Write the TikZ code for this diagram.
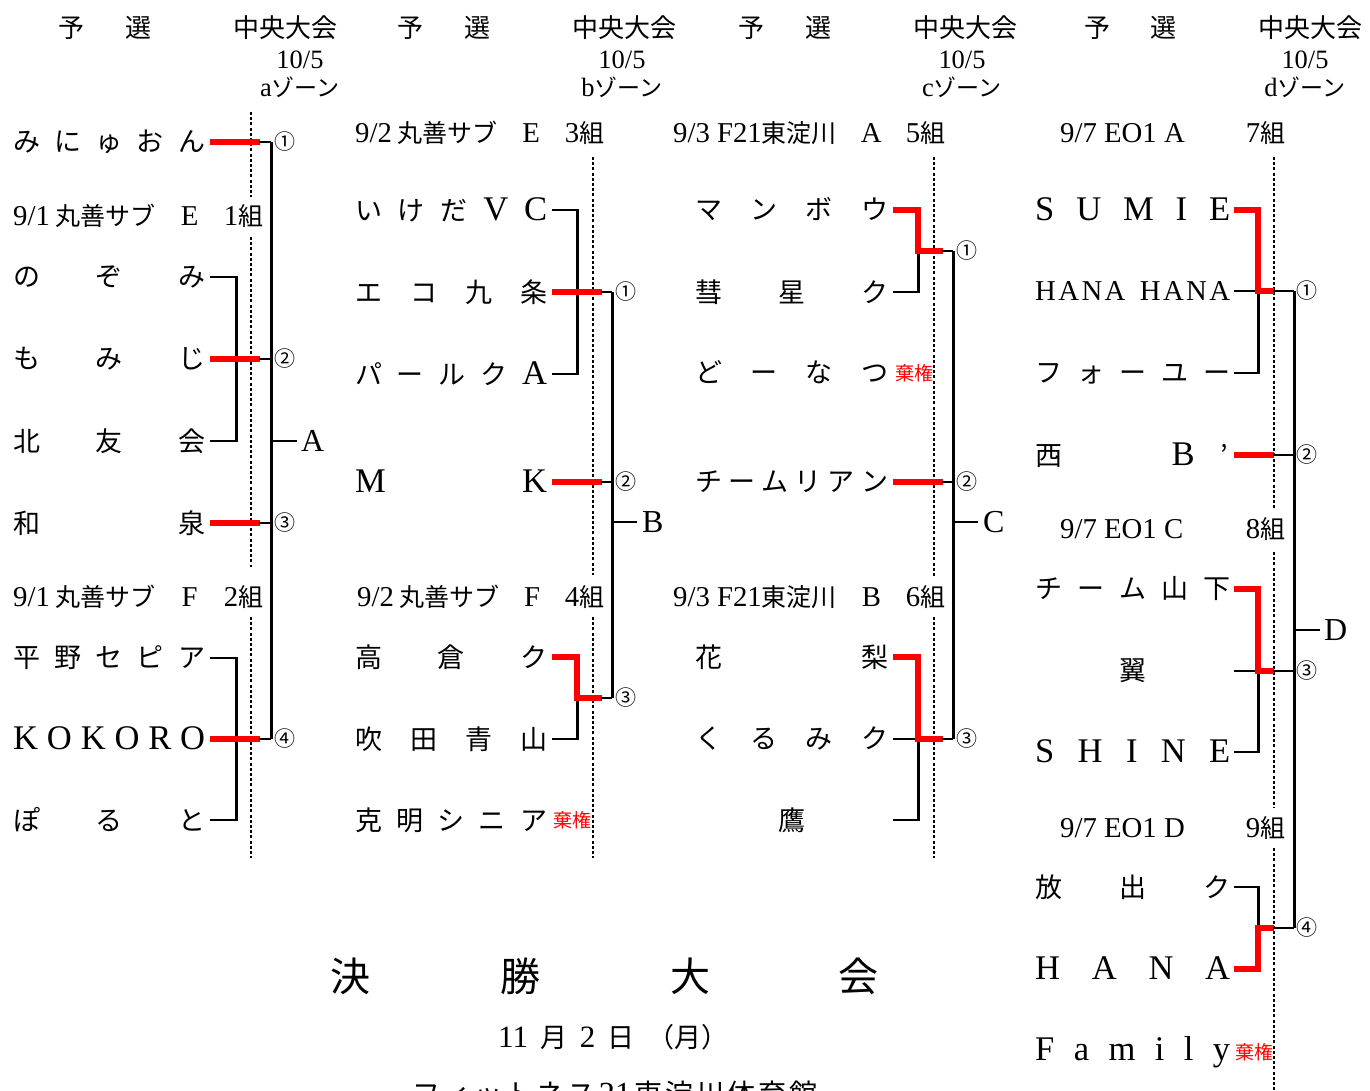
\documentclass[tikz,border=0pt]{standalone}
\usepackage{fontspec}
\setmainfont{Noto Sans CJK JP}
\newfontfamily\lt{Liberation Serif}[Scale=1.15]
\newfontfamily\ltn{Liberation Serif}[Scale=1.28]
\usetikzlibrary{calc}
\newcommand\gp{\hfil}
\newcommand\nbox[2]{\hbox to #1pt{\vphantom{国}#2}}
\tikzset{
 blk/.style={line width=2.6pt, draw=black, line cap=butt, line join=miter},
 redl/.style={line width=6pt, draw=red, line join=miter, line cap=butt},
 dotl/.style={line width=2.4pt, draw=black, dash pattern=on 3pt off 2.2pt},
 nm/.style={anchor=west, inner sep=0pt, font=\fontsize{27}{30}\selectfont},
 grp/.style={anchor=west, inner sep=0pt, font=\fontsize{25}{28}\selectfont},
 hdr/.style={inner sep=0pt, font=\fontsize{26}{28}\selectfont},
 subh/.style={inner sep=0pt, font=\fontsize{23}{25}\selectfont},
 seed/.style={inner sep=0pt, font=\fontsize{21}{23}\selectfont},
 lbl/.style={anchor=west, inner sep=0pt, font=\ltn\fontsize{25}{28}\selectfont},
 kiken/.style={anchor=west, inner sep=0pt, text=red, font=\fontsize{19}{21}\selectfont},
 big/.style={inner sep=0pt, font=\fontsize{40}{44}\selectfont},
}
\begin{document}
\begin{tikzpicture}[x=1pt,y=-1pt]
\fill[white] (0,0) rectangle (1370,1091);
\useasboundingbox (0,0) rectangle (1370,1091);

% ---------- headers ----------
\foreach \c/\xa/\xb/\xc/\xd/\z in {a/71/138/285/300/a, b/410/477/624/622/b, c/751/818/965/962/c, d/1097/1163/1310/1305/d}{
  \node[hdr] (h\c1) at (\xa,28) {予};
  \node[hdr] (h\c2) at (\xb,28) {選};
  \node[hdr] (h\c3) at (\xc,28) {中央大会};
  \node[subh] (h\c4) at (\xd,60) {\lt 10/5};
  \node[subh] (h\c5) at (\xd,87) {{\lt \z}ゾーン};
}

% ---------- dotted guide lines ----------
\draw[dotl] (251,112) -- (251,197);
\draw[dotl] (251,237) -- (251,567);
\draw[dotl] (251,617) -- (251,858);
\draw[dotl] (593,157) -- (593,575);
\draw[dotl] (593,617) -- (593,858);
\draw[dotl] (934,157) -- (934,577);
\draw[dotl] (934,617) -- (934,858);
\draw[dotl] (1274,157) -- (1274,510);
\draw[dotl] (1274,552) -- (1274,807);
\draw[dotl] (1274,848) -- (1274,1091);

% ---------- column a ----------
\node[nm] (a1) at (13,142) {\nbox{192}{み\gp に\gp ゅ\gp お\gp ん}};
\node[grp] (at1) at (13,216) {\nbox{250}{{\lt 9/1} 丸善サブ\gp{\lt E}\gp{\lt 1}組}};
\node[nm] (a2) at (13,277) {\nbox{192}{の\gp ぞ\gp み}};
\node[nm] (a3) at (13,359) {\nbox{192}{も\gp み\gp じ}};
\node[nm] (a4) at (13,441) {\nbox{192}{北\gp 友\gp 会}};
\node[nm] (a5) at (13,523) {\nbox{192}{和\gp 泉}};
\node[grp] (at2) at (13,597) {\nbox{250}{{\lt 9/1} 丸善サブ\gp{\lt F}\gp{\lt 2}組}};
\node[nm] (a6) at (13,658) {\nbox{192}{平\gp 野\gp セ\gp ピ\gp ア}};
\node[nm] (a7) at (13,739) {\nbox{192}{\ltn K\gp O\gp K\gp O\gp R\gp O}};
\node[nm] (a8) at (13,820) {\nbox{192}{ぽ\gp る\gp と}};

\draw[blk] ([xshift=5pt]a2.east) -- ([xshift=31pt]a2.east) -- ([xshift=31pt]a4.east) -- ([xshift=5pt]a4.east);
\draw[blk] ([xshift=5pt]a6.east) -- ([xshift=31pt]a6.east) -- ([xshift=31pt]a8.east) -- ([xshift=5pt]a8.east);
\draw[blk] ([xshift=66pt]a1.east) -- ([xshift=66pt]a7.east);
\foreach \n in {a1,a3,a5,a7}{
  \draw[redl] ([xshift=5pt]\n.east) -- ([xshift=55pt]\n.east);
  \draw[blk] ([xshift=54pt]\n.east) -- ([xshift=66pt]\n.east);
}
\node[seed] (sa1) at ([xshift=80pt]a1.east) {①};
\node[seed] (sa2) at ([xshift=80pt]a3.east) {②};
\node[seed] (sa3) at ([xshift=80pt]a5.east) {③};
\node[seed] (sa4) at ([xshift=80pt]a7.east) {④};
\node[lbl] (A) at (301,441) {A};
\draw[blk] ([xshift=-30pt]A.west) -- ([xshift=-4pt]A.west);

% ---------- column b ----------
\node[grp] (bt1) at (355,133) {\nbox{249}{{\lt 9/2} 丸善サブ\gp{\lt E}\gp{\lt 3}組}};
\node[nm] (b1) at (355,210) {\nbox{192}{い\gp け\gp だ\gp{\ltn V}\gp{\ltn C}}};
\node[nm] (b2) at (355,292) {\nbox{192}{エ\gp コ\gp 九\gp 条}};
\node[nm] (b3) at (355,374) {\nbox{192}{パ\gp ー\gp ル\gp ク\gp{\ltn A}}};
\node[nm] (b4) at (355,482) {\nbox{192}{{\ltn M}\gp{\ltn K}}};
\node[grp] (bt2) at (357,597) {\nbox{247}{{\lt 9/2} 丸善サブ\gp{\lt F}\gp{\lt 4}組}};
\node[nm] (b5) at (355,657) {\nbox{192}{高\gp 倉\gp ク}};
\node[nm] (b6) at (355,739) {\nbox{192}{吹\gp 田\gp 青\gp 山}};
\node[nm] (b7) at (355,820) {\nbox{192}{克\gp 明\gp シ\gp ニ\gp ア}};
\node[kiken] (kb) at (553,820) {棄権};
\coordinate (b56) at ($(b5.east)!.5!(b6.east)$);

\draw[blk] ([xshift=5pt]b1.east) -- ([xshift=30pt]b1.east) -- ([xshift=30pt]b3.east) -- ([xshift=5pt]b3.east);
\draw[blk] ([xshift=5pt]b6.east) -- ([xshift=30pt]b6.east) -- ([xshift=30pt]b56);
\draw[blk] ([xshift=65pt]b2.east) -- ([xshift=65pt]b56);
\foreach \n in {b2,b4}{
  \draw[redl] ([xshift=5pt]\n.east) -- ([xshift=55pt]\n.east);
  \draw[blk] ([xshift=54pt]\n.east) -- ([xshift=65pt]\n.east);
}
\draw[redl] ([xshift=5pt]b5.east) -- ([xshift=30pt]b5.east) -- ([xshift=30pt]b56) -- ([xshift=55pt]b56);
\draw[blk] ([xshift=54pt]b56) -- ([xshift=65pt]b56);
\node[seed] (sb1) at ([xshift=79pt]b2.east) {①};
\node[seed] (sb2) at ([xshift=79pt]b4.east) {②};
\node[seed] (sb3) at ([xshift=79pt]b56) {③};
\node[lbl] (B) at (642,522) {B};
\draw[blk] ([xshift=-30pt]B.west) -- ([xshift=-5pt]B.west);

% ---------- column c ----------
\node[grp] (ct1) at (673,133) {\nbox{272}{{\lt 9/3 F21}東淀川\gp{\lt A}\gp{\lt 5}組}};
\node[nm] (c1) at (695,210) {\nbox{193}{マ\gp ン\gp ボ\gp ウ}};
\node[nm] (c2) at (695,292) {\nbox{193}{彗\gp 星\gp ク}};
\node[nm] (c3) at (695,373) {\nbox{193}{ど\gp ー\gp な\gp つ}};
\node[kiken] (kc) at (895,373) {棄権};
\node[nm] (c4) at (695,482) {\nbox{193}{チ\gp ー\gp ム\gp リ\gp ア\gp ン}};
\node[grp] (ct2) at (673,597) {\nbox{272}{{\lt 9/3 F21}東淀川\gp{\lt B}\gp{\lt 6}組}};
\node[nm] (c5) at (695,657) {\nbox{193}{花\gp 梨}};
\node[nm] (c6) at (695,739) {\nbox{193}{く\gp る\gp み\gp ク}};
\node[nm] (c7) at (695,820) {\nbox{193}{\gp 鷹\gp}};
\coordinate (c12) at ($(c1.east)!.5!(c2.east)$);

\draw[blk] ([xshift=5pt]c2.east) -- ([xshift=30pt]c2.east) -- ([xshift=30pt]c12);
\draw[blk] ([xshift=5pt]c6.east) -- ([xshift=30pt]c6.east) -- ([xshift=30pt]c7.east) -- ([xshift=5pt]c7.east);
\draw[blk] ([xshift=65pt]c12) -- ([xshift=65pt]c6.east);
\draw[redl] ([xshift=5pt]c1.east) -- ([xshift=30pt]c1.east) -- ([xshift=30pt]c12) -- ([xshift=55pt]c12);
\draw[blk] ([xshift=54pt]c12) -- ([xshift=65pt]c12);
\draw[redl] ([xshift=5pt]c4.east) -- ([xshift=55pt]c4.east);
\draw[blk] ([xshift=54pt]c4.east) -- ([xshift=65pt]c4.east);
\draw[redl] ([xshift=5pt]c5.east) -- ([xshift=30pt]c5.east) -- ([xshift=30pt]c6.east) -- ([xshift=55pt]c6.east);
\draw[blk] ([xshift=54pt]c6.east) -- ([xshift=65pt]c6.east);
\node[seed] (sc1) at ([xshift=79pt]c12) {①};
\node[seed] (sc2) at ([xshift=79pt]c4.east) {②};
\node[seed] (sc3) at ([xshift=79pt]c6.east) {③};
\node[lbl] (C) at (983,522) {C};
\draw[blk] ([xshift=-30pt]C.west) -- ([xshift=-5pt]C.west);

% ---------- column d ----------
\node[grp] (dt1) at (1060,133) {\nbox{225}{{\lt 9/7 EO1 A}\gp{\lt 7}組}};
\node[nm] (d1) at (1035,210) {\nbox{195}{\ltn S\gp U\gp M\gp I\gp E}};
\node[nm] (d2) at (1035,291) {\nbox{195}{\lt\fontsize{25}{28}\selectfont H\gp A\gp N\gp A\hskip 12pt plus 1fil H\gp A\gp N\gp A}};
\node[nm] (d3) at (1035,373) {\nbox{195}{フ\gp ォ\gp ー\gp ユ\gp ー}};
\node[nm] (d4) at (1035,455) {\nbox{195}{西\gp{\ltn B}\hskip 26pt ’\hskip 2pt}};
\node[grp] (dt2) at (1060,529) {\nbox{225}{{\lt 9/7 EO1 C}\gp{\lt 8}組}};
\node[nm] (d5) at (1035,589) {\nbox{195}{チ\gp ー\gp ム\gp 山\gp 下}};
\node[nm] (d6) at (1035,671) {\nbox{195}{\gp 翼\gp}};
\node[nm] (d7) at (1035,752) {\nbox{195}{\ltn S\gp H\gp I\gp N\gp E}};
\node[grp] (dt3) at (1060,828) {\nbox{225}{{\lt 9/7 EO1 D}\gp{\lt 9}組}};
\node[nm] (d8) at (1035,887) {\nbox{195}{放\gp 出\gp ク}};
\node[nm] (d9) at (1035,969) {\nbox{195}{\ltn H\gp A\gp N\gp A}};
\node[nm] (d10) at (1035,1052) {\nbox{195}{\ltn F\gp a\gp m\gp i\gp l\gp y}};
\node[kiken] (kd) at (1235,1052) {棄権};
\coordinate (d89) at ($(d8.east)!.5!(d9.east)$);

\draw[blk] ([xshift=4pt]d2.east) -- ([xshift=28pt]d2.east) -- ([xshift=28pt]d3.east) -- ([xshift=4pt]d3.east);
\draw[blk] ([xshift=4pt]d6.east) -- ([xshift=28pt]d6.east) -- ([xshift=28pt]d7.east) -- ([xshift=4pt]d7.east);
\draw[blk] ([xshift=4pt]d8.east) -- ([xshift=28pt]d8.east) -- ([xshift=28pt]d89);
\draw[blk] ([xshift=64pt]d2.east) -- ([xshift=64pt]d89);
\draw[redl] ([xshift=4pt]d1.east) -- ([xshift=28pt]d1.east) -- ([xshift=28pt]d2.east) -- ([xshift=44pt]d2.east);
\draw[redl] ([xshift=4pt]d4.east) -- ([xshift=44pt]d4.east);
\draw[redl] ([xshift=4pt]d5.east) -- ([xshift=28pt]d5.east) -- ([xshift=28pt]d6.east) -- ([xshift=44pt]d6.east);
\draw[redl] ([xshift=4pt]d9.east) -- ([xshift=28pt]d9.east) -- ([xshift=28pt]d89) -- ([xshift=44pt]d89);
\foreach \n in {d2.east,d4.east,d6.east,d89}{
  \draw[blk] ([xshift=43pt]\n) -- ([xshift=64pt]\n);
}
\node[seed] (sd1) at ([xshift=77pt]d2.east) {①};
\node[seed] (sd2) at ([xshift=77pt]d4.east) {②};
\node[seed] (sd3) at ([xshift=77pt]d6.east) {③};
\node[seed] (sd4) at ([xshift=77pt]d89) {④};
\node[lbl] (D) at (1324,630) {D};
\draw[blk] ([xshift=-30pt]D.west) -- ([xshift=-4pt]D.west);

% ---------- bottom ----------
\node[big] (f1) at (350,976) {決};
\node[big] (f2) at (520,976) {勝};
\node[big] (f3) at (690,976) {大};
\node[big] (f4) at (858,976) {会};
\node[nm] (date) at (498,1037) {\nbox{230}{{\lt 11}\gp 月\gp{\lt 2}\gp 日\gp （月）}};
\node[inner sep=0pt, font=\fontsize{28}{30}\selectfont] (venue) at (615,1094) {\nbox{406}{フ\gp ィ\gp ッ\gp ト\gp ネ\gp ス\gp{\lt 21}\gp 東\gp 淀\gp 川\gp 体\gp 育\gp 館}};
\end{tikzpicture}
\end{document}
